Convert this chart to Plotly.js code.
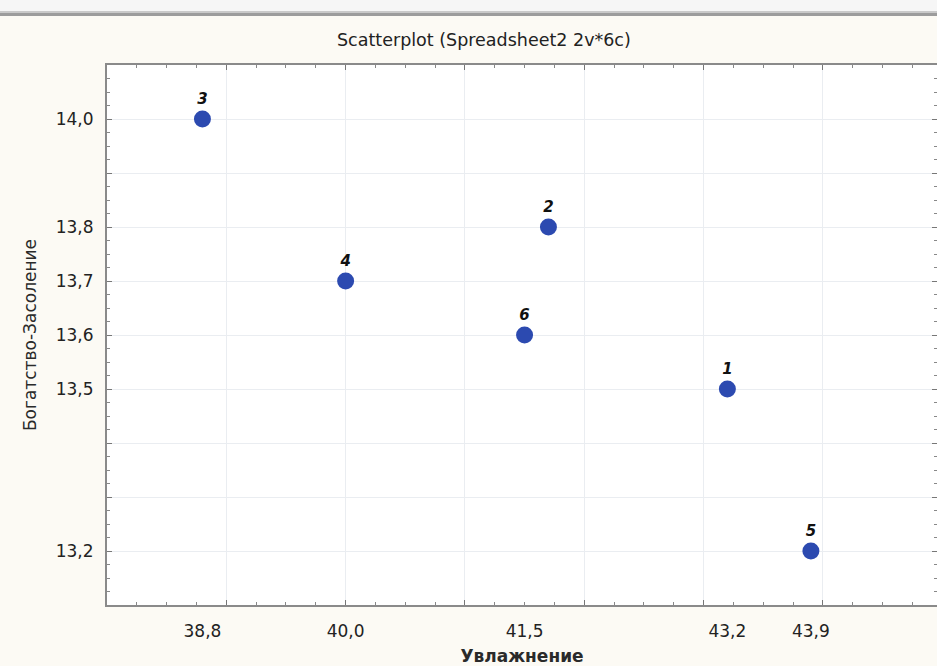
<!DOCTYPE html>
<html>
<head>
<meta charset="utf-8">
<script src="https://cdn.plot.ly/plotly-3.0.1.min.js"></script>
<style>html,body{margin:0;padding:0;background:#fcfaf4;}#chart{width:937px;height:666px;}</style>
</head>
<body>
<div id="chart"></div>
<script>
// Data
const pointLabels = ['1', '2', '3', '4', '5', '6'];
const humidity = [43.2, 41.7, 38.8, 40.0, 43.9, 41.5];        // Увлажнение
const richnessSalinity = [13.5, 13.8, 14.0, 13.7, 13.2, 13.6]; // Богатство-Засоление
const xTickVals = [38.8, 40.0, 41.5, 43.2, 43.9];
const xTickText = ['38,8', '40,0', '41,5', '43,2', '43,9'];
const yTickVals = [14.0, 13.8, 13.7, 13.6, 13.5, 13.2];
const yTickText = ['14,0', '13,8', '13,7', '13,6', '13,5', '13,2'];

const W = 937, H = 666;
const L = 107, R = 0, T = 65, B = 61;
const xRange = [38, 44.957];
const yRange = [13.1, 14.1];
const FONT = 'DejaVu Sans, Verdana, sans-serif';

// pixel -> paper helpers (for decorative frame only)
const px = v => (v - L) / (W - L - R);
const py = v => (H - B - v) / (H - T - B);

const trace = {
  type: 'scatter',
  mode: 'markers+text',
  x: humidity,
  y: richnessSalinity,
  text: pointLabels,
  textposition: 'top center',
  textfont: {family: FONT, size: 15, color: '#111', weight: 'bold', style: 'italic'},
  marker: {size: 17, color: '#2c4ab0', line: {width: 0}},
  xaxis: 'x',
  yaxis: 'y',
  hoverinfo: 'x+y+text',
  cliponaxis: false,
  showlegend: false
};

const gridAxisCommon = {
  showticklabels: false,
  showgrid: true,
  gridcolor: '#eaedf1',
  gridwidth: 1,
  zeroline: false,
  showline: true,
  linecolor: '#8a8a8a',
  linewidth: 2,
  mirror: 'ticks',
  ticks: 'inside',
  ticklen: 5,
  tickwidth: 1,
  tickcolor: '#777'
};

const layout = {
  width: W,
  height: H,
  margin: {l: L, r: R, t: T, b: B, pad: 0},
  paper_bgcolor: '#fcfaf4',
  plot_bgcolor: '#ffffff',
  showlegend: false,
  font: {family: FONT, size: 17, color: '#222'},
  xaxis: Object.assign({}, gridAxisCommon, {
    range: xRange,
    tick0: 38, dtick: 1,
    minor: {dtick: 0.25, ticks: 'inside', ticklen: 3, tickcolor: '#888', showgrid: false}
  }),
  yaxis: Object.assign({}, gridAxisCommon, {
    range: yRange,
    tick0: 13.1, dtick: 0.1,
    minor: {dtick: 0.025, ticks: 'inside', ticklen: 3, tickcolor: '#888', showgrid: false}
  }),
  xaxis2: {
    overlaying: 'x',
    side: 'bottom',
    anchor: 'y',
    range: xRange,
    tickmode: 'array',
    tickvals: xTickVals,
    ticktext: xTickText,
    showgrid: false, zeroline: false, showline: false,
    ticks: 'outside', ticklen: 11, tickcolor: 'rgba(0,0,0,0)',
    tickfont: {family: FONT, size: 17, color: '#222'},
    title: {text: 'Увлажнение', font: {family: FONT, size: 17, color: '#2a2a2a', weight: 'bold'}, standoff: 16}
  },
  yaxis2: {
    overlaying: 'y',
    side: 'left',
    anchor: 'x',
    range: yRange,
    tickmode: 'array',
    tickvals: yTickVals,
    ticktext: yTickText,
    showgrid: false, zeroline: false, showline: false,
    ticks: 'outside', ticklen: 9, tickcolor: 'rgba(0,0,0,0)',
    tickfont: {family: FONT, size: 17, color: '#222'},
    title: {text: 'Богатство-Засоление', font: {family: FONT, size: 17, color: '#2a2a2a'}, standoff: 14}
  },
  annotations: [{
    text: 'Scatterplot (Spreadsheet2 2v*6c)',
    xref: 'paper', yref: 'paper',
    x: px(484), y: py(40),
    xanchor: 'center', yanchor: 'middle',
    showarrow: false,
    font: {family: FONT, size: 17.5, color: '#222'}
  }],
  shapes: [
    {type: 'rect', xref: 'paper', yref: 'paper', x0: px(0), x1: px(W), y0: py(0), y1: py(11), fillcolor: '#f6f6f6', line: {width: 0}, layer: 'below'},
    {type: 'rect', xref: 'paper', yref: 'paper', x0: px(0), x1: px(W), y0: py(11), y1: py(13), fillcolor: '#c9c9c9', line: {width: 0}, layer: 'below'},
    {type: 'rect', xref: 'paper', yref: 'paper', x0: px(0), x1: px(W), y0: py(13), y1: py(16), fillcolor: '#9c9c9c', line: {width: 0}, layer: 'below'}
  ]
};

// Invisible anchor trace so the label axes are rendered (uses the same data)
const labelAxisTrace = {
  type: 'scatter', mode: 'markers',
  x: humidity, y: richnessSalinity,
  xaxis: 'x2', yaxis: 'y2',
  marker: {opacity: 0}, hoverinfo: 'skip', showlegend: false
};

Plotly.newPlot('chart', [labelAxisTrace, trace], layout, {displayModeBar: false, staticPlot: true});
</script>
</body>
</html>
